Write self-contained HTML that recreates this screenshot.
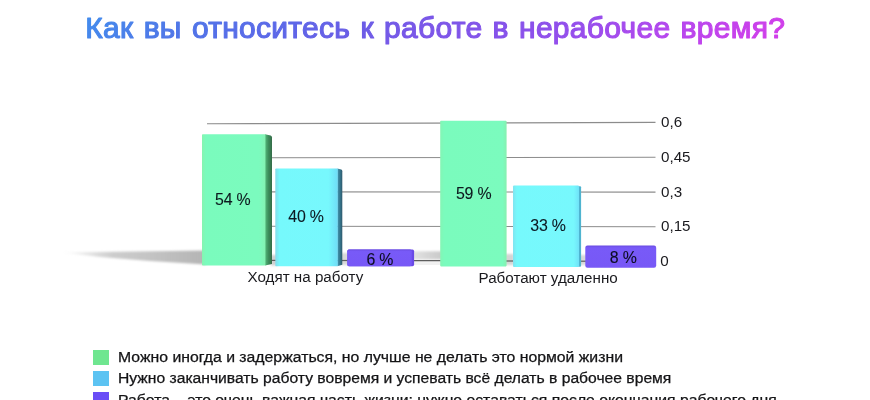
<!DOCTYPE html>
<html lang="ru">
<head>
<meta charset="utf-8">
<title>Как вы относитесь к работе в нерабочее время?</title>
<style>
html,body{margin:0;padding:0;background:#fff;}
body{width:870px;height:400px;position:relative;overflow:hidden;font-family:"Liberation Sans",sans-serif;color:#1a1a1e;}
#chart{position:absolute;left:0;top:0;width:870px;height:400px;}
.t{position:absolute;white-space:nowrap;font-size:15.2px;line-height:18px;}
.v{font-size:15.9px;letter-spacing:-0.2px;word-spacing:0px;color:rgba(4,8,18,0.93);-webkit-text-stroke:0.1px rgba(4,8,18,0.9);}
.leg{position:absolute;left:117.7px;white-space:nowrap;font-size:13.8px;line-height:20px;color:#141416;-webkit-text-stroke:0.25px #141416;transform-origin:0 0;}
.sq{position:absolute;left:93.3px;width:15.3px;height:14.9px;}
</style>
</head>
<body>

<svg id="chart" width="870" height="400" viewBox="0 0 870 400">
 <defs>
  <linearGradient id="shL" x1="0" x2="1" y1="0" y2="0">
   <stop offset="0" stop-color="#c4c4c4" stop-opacity="0"/>
   <stop offset="0.35" stop-color="#c0c0c0" stop-opacity="0.8"/>
   <stop offset="1" stop-color="#b4b4b4" stop-opacity="1"/>
  </linearGradient>
  <linearGradient id="shM" x1="0" x2="1" y1="0" y2="0">
   <stop offset="0" stop-color="#e4e4e4"/>
   <stop offset="0.6" stop-color="#d3d3d3"/>
   <stop offset="1" stop-color="#c9c9c9"/>
  </linearGradient>
  <filter id="bl" x="-10%" y="-50%" width="120%" height="200%"><feGaussianBlur stdDeviation="1.2"/></filter>
  <filter id="bl2" x="-20%" y="-50%" width="140%" height="200%"><feGaussianBlur stdDeviation="1.6"/></filter>
  <filter id="bl3" x="-30%" y="-30%" width="160%" height="160%"><feGaussianBlur stdDeviation="0.9"/></filter>
  <linearGradient id="gSide" x1="0" x2="1"><stop offset="0" stop-color="#55b97c"/><stop offset="0.5" stop-color="#3c8c5a"/><stop offset="1" stop-color="#356c49"/></linearGradient>
  <linearGradient id="bSide" x1="0" x2="1"><stop offset="0" stop-color="#4299b4"/><stop offset="0.5" stop-color="#36788f"/><stop offset="1" stop-color="#2e596d"/></linearGradient>
  <linearGradient id="gFront" x1="0" x2="1"><stop offset="0" stop-color="#86f4b0"/><stop offset="0.06" stop-color="#7afbbd"/><stop offset="0.9" stop-color="#7bfbbe"/><stop offset="1" stop-color="#84f2b2"/></linearGradient>
  <linearGradient id="gFront2" x1="0" x2="1"><stop offset="0" stop-color="#84f5b4"/><stop offset="0.06" stop-color="#7afbbd"/><stop offset="0.94" stop-color="#7bfbbe"/><stop offset="1" stop-color="#86f0b0"/></linearGradient>
  <linearGradient id="bFront" x1="0" x2="1"><stop offset="0" stop-color="#82dcea"/><stop offset="0.07" stop-color="#76f9fc"/><stop offset="0.85" stop-color="#77f8fd"/><stop offset="1" stop-color="#6fdcf6"/></linearGradient>
  <linearGradient id="bFront2" x1="0" x2="1"><stop offset="0" stop-color="#80e4f0"/><stop offset="0.06" stop-color="#76f9fc"/><stop offset="0.92" stop-color="#77f8fd"/><stop offset="1" stop-color="#70e2f8"/></linearGradient>
  <linearGradient id="pFront" x1="0" x2="0" y1="0" y2="1"><stop offset="0" stop-color="#6c4ee4"/><stop offset="0.12" stop-color="#785af8"/><stop offset="1" stop-color="#7758f6"/></linearGradient>
  <linearGradient id="pFront2" x1="0" x2="0" y1="0" y2="1"><stop offset="0" stop-color="#6a4ce2"/><stop offset="0.1" stop-color="#785af8"/><stop offset="1" stop-color="#7758f6"/></linearGradient>
 <linearGradient id="tg" gradientUnits="userSpaceOnUse" x1="70" y1="16" x2="438.5" y2="384.5">
   <stop offset="0.03" stop-color="#448bed"/><stop offset="0.14" stop-color="#4e7ae8"/><stop offset="0.19" stop-color="#5273e8"/><stop offset="0.30" stop-color="#5c68e8"/><stop offset="0.40" stop-color="#6a5ee6"/><stop offset="0.49" stop-color="#7a57e8"/><stop offset="0.61" stop-color="#8652ea"/><stop offset="0.71" stop-color="#964eec"/><stop offset="0.83" stop-color="#b548ee"/><stop offset="0.91" stop-color="#c443ec"/><stop offset="0.98" stop-color="#d03fea"/>
 </linearGradient>
 </defs>

 <text id="title" x="85.3" y="38.4" font-family="'Liberation Sans',sans-serif" font-size="30" style="letter-spacing:0.28px;word-spacing:1.6px" fill="url(#tg)" stroke="url(#tg)" stroke-width="1.15" stroke-linejoin="round">Как вы относитесь к работе в нерабочее время?</text>

 <!-- gridlines -->
 <g stroke="#8c8c8c" stroke-width="1.1">
  <line x1="207" x2="655.5" y1="123.8" y2="122.4"/>
  <line x1="207" x2="655.5" y1="157.8" y2="157.3"/>
  <line x1="207" x2="655.5" y1="191.8" y2="192.1"/>
  <line x1="207" x2="655.5" y1="226.2" y2="226.7"/>
  <line x1="207" x2="655" y1="260.3" y2="261.3"/>
 </g>

 <!-- floor shadows -->
 <polygon points="62,252.6 206,250.6 206,264.5 150,261.1 100,256.9" fill="url(#shL)" filter="url(#bl)"/>
 <rect x="271" y="255" width="6" height="10.5" fill="#cfcfcf" filter="url(#bl3)"/>
 <rect x="341" y="253" width="8" height="12" fill="#d8d8d8" filter="url(#bl3)"/>
 <rect x="412" y="251.3" width="30" height="8.2" fill="url(#shM)" filter="url(#bl3)"/>
 <rect x="412" y="261" width="30" height="4" fill="#f1f1f1"/>
 <rect x="505" y="254" width="9" height="11" fill="#d4d4d4" filter="url(#bl3)"/>
 <rect x="579" y="255" width="8" height="10" fill="#d8d8d8" filter="url(#bl3)"/>
 <g stroke="#5e5e5e" stroke-width="1.2">
  <line x1="271" x2="276" y1="260.4" y2="260.4"/>
  <line x1="341" x2="348" y1="260.5" y2="260.5"/>
  <line x1="413" x2="441" y1="260.6" y2="260.7"/>
  <line x1="506" x2="514" y1="261" y2="261"/>
  <line x1="580" x2="586" y1="261.2" y2="261.2"/>
 </g>

 <!-- group 1 -->
 <path d="M265,134.2 L270.6,135.6 Q272,136 272,137.4 L272,264.1 L265,265.6 Z" fill="url(#gSide)"/>
 <rect x="202" y="134.2" width="63.4" height="131.4" rx="0.8" fill="url(#gFront)"/>
 <path d="M337.3,168.5 L341.2,169.6 Q342.3,170 342.3,171.2 L342.3,264.8 L337.3,266.2 Z" fill="url(#bSide)"/>
 <rect x="275.3" y="168.5" width="62.4" height="97.7" rx="0.8" fill="url(#bFront)"/>
 <rect x="347.3" y="249.6" width="66.8" height="16.6" rx="1.6" fill="#6a4ae6"/>
 <rect x="347.3" y="249.6" width="64.4" height="16.6" rx="1.6" fill="url(#pFront)"/>

 <!-- group 2 -->
 <rect x="440.2" y="120.8" width="66.4" height="145.6" rx="0.8" fill="url(#gFront2)"/>
 <rect x="578" y="186.3" width="3.1" height="80.4" rx="1" fill="#4fb4d0"/>
 <rect x="513" y="185.5" width="66" height="81.5" rx="1" fill="url(#bFront2)"/>
 <rect x="585.3" y="245.6" width="70.9" height="22.1" rx="2.2" fill="url(#pFront2)"/>
</svg>

<!-- bar value labels -->
<div class="t v" style="left:215.0px;top:190.75px;">54 %</div>
<div class="t v" style="left:288.3px;top:207.65px;">40 %</div>
<div class="t v" style="left:366.4px;top:251.1px;">6 %</div>
<div class="t v" style="left:455.9px;top:185.4px;">59 %</div>
<div class="t v" style="left:530.3px;top:216.85px;">33 %</div>
<div class="t v" style="left:609.8px;top:248.65px;">8 %</div>

<!-- axis labels -->
<div class="t" style="left:661px;top:113px;">0,6</div>
<div class="t" style="left:661px;top:148px;">0,45</div>
<div class="t" style="left:661px;top:182.5px;">0,3</div>
<div class="t" style="left:661px;top:217px;">0,15</div>
<div class="t" style="left:660.3px;top:251.5px;">0</div>

<!-- category labels -->
<div class="t" style="left:247.5px;top:268px;">Ходят на работу</div>
<div class="t" style="left:478.5px;top:269px;">Работают удаленно</div>

<!-- legend -->
<div class="sq" style="top:350px;background:#6fe690;"></div>
<div class="sq" style="top:370.7px;background:#5cc3f2;"></div>
<div class="sq" style="top:391.5px;background:#6a4df6;"></div>
<div class="leg" id="l1" style="top:348.4px;transform:scaleX(1.1445);">Можно иногда и задержаться, но лучше не делать это нормой жизни</div>
<div class="leg" id="l2" style="top:369.1px;transform:scaleX(1.135);">Нужно заканчивать работу вовремя и успевать всё делать в рабочее время</div>
<div class="leg" id="l3" style="top:390.6px;transform:scaleX(1.1418);">Работа – это очень важная часть жизни: нужно оставаться после окончания рабочего дня</div>
</body>
</html>
